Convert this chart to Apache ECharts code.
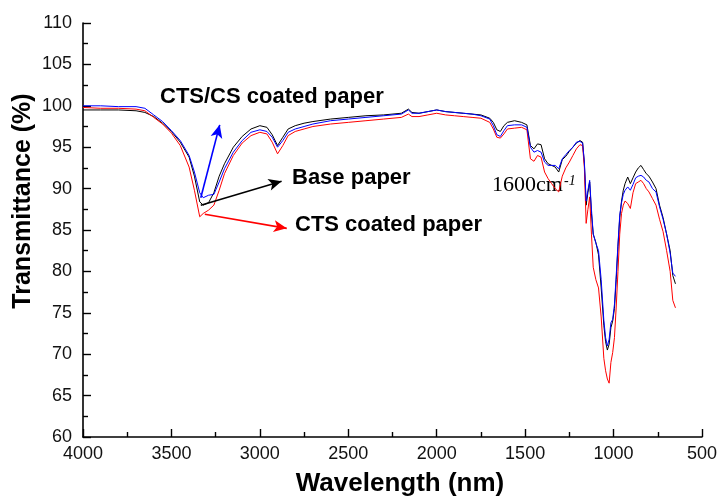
<!DOCTYPE html>
<html>
<head>
<meta charset="utf-8">
<script src="https://cdn.jsdelivr.net/npm/echarts@6/dist/echarts.min.js"></script>
<style>
html,body{margin:0;padding:0;background:#fff;}
#chart{width:720px;height:499px;}
</style>
</head>
<body>
<div id="chart"></div>
<script>
// Wavenumber positions (x axis, labelled "Wavelength (nm)")
const wavenumbers = [4000,3900,3800,3700,3650,3600,3550,3500,3450,3400,3370,3340,3320,3290,3260,3230,3200,3150,3100,3050,3000,2960,2930,2900,2870,2840,2800,2750,2700,2600,2500,2400,2300,2200,2160,2140,2100,2050,2000,1950,1900,1850,1800,1750,1700,1680,1660,1640,1620,1600,1560,1520,1490,1470,1450,1430,1410,1390,1370,1350,1330,1310,1290,1270,1250,1230,1210,1190,1175,1165,1155,1145,1135,1125,1115,1100,1085,1070,1055,1045,1035,1025,1015,1005,995,985,975,965,955,945,935,920,905,890,875,860,845,830,815,800,780,760,740,720,700,680,665,650];

const basePaper = [99.5,99.5,99.5,99.4,99.2,98.7,97.9,96.9,95.6,93.8,91.5,88.4,88.0,88.3,89.5,91.5,93.0,95.0,96.3,97.2,97.6,97.4,96.5,95.2,96.2,97.2,97.6,97.9,98.1,98.4,98.6,98.8,98.9,99.1,99.6,99.2,99.1,99.3,99.5,99.3,99.2,99.1,99.0,98.9,98.5,98.0,97.1,96.9,97.6,98.0,98.2,98.0,97.7,95.2,94.8,95.4,95.3,93.6,93.0,92.8,92.6,92.0,93.5,93.9,94.5,95.0,95.5,95.8,95.6,93.0,88.0,89.5,90.8,87.0,84.5,83.5,82.0,78.0,73.5,71.5,70.5,71.2,73.2,74.0,75.5,79.0,83.0,86.5,88.5,89.8,90.6,91.4,90.6,91.3,92.0,92.5,92.8,92.3,91.8,91.5,90.8,90.0,88.0,86.5,84.5,82.5,79.5,78.5];

const ctsCsPaper = [100.0,100.0,99.9,99.9,99.7,98.9,98.1,97.0,95.8,94.0,92.0,89.5,88.9,89.2,89.3,90.8,92.4,94.4,95.8,96.8,97.1,96.9,96.2,95.0,95.8,96.8,97.2,97.5,97.8,98.2,98.4,98.6,98.8,99.0,99.5,99.1,99.1,99.3,99.5,99.3,99.2,99.1,99.0,98.8,98.4,97.6,96.5,96.3,97.0,97.6,97.7,97.7,97.4,95.0,94.4,94.6,94.4,93.2,92.8,92.8,92.8,92.4,93.6,94.1,94.6,95.0,95.6,95.7,95.5,93.2,88.5,89.8,91.0,87.5,84.5,83.4,82.5,79.0,74.1,72.0,71.0,71.8,73.8,74.2,76.0,79.5,83.3,86.8,88.3,89.3,89.8,90.2,89.8,90.5,91.3,91.5,91.6,91.4,91.0,90.8,90.0,89.6,87.8,86.3,84.5,82.2,79.8,79.4];

const ctsPaper = [99.8,99.7,99.7,99.6,99.4,98.6,97.8,96.7,95.2,92.6,89.8,86.6,87.0,87.4,88.0,89.8,91.8,94.0,95.5,96.4,96.8,96.6,95.6,94.2,95.2,96.4,96.9,97.2,97.5,97.8,98.0,98.2,98.4,98.6,99.0,98.7,98.7,98.9,99.1,98.9,98.8,98.7,98.6,98.5,98.0,97.2,96.2,96.1,96.6,97.2,97.3,97.4,97.1,93.6,93.3,94.0,93.8,92.0,91.2,90.6,90.0,89.6,91.5,92.5,93.2,94.0,94.8,95.3,95.2,92.5,85.8,87.5,89.0,84.5,80.5,79.0,78.0,74.5,69.5,68.0,67.0,66.5,69.0,70.2,72.0,75.7,80.0,84.5,87.0,88.0,88.5,88.2,87.6,89.5,90.6,90.8,91.0,90.6,90.0,89.6,88.8,88.0,86.3,84.8,82.5,80.0,76.5,75.6];

// Annotation arrows (start point at the absorption minimum, end near label), in data units
const arrowCtsCs = [[3334, 88.9], [3227, 97.7]];
const arrowBase  = [[3334, 88.0], [2877, 90.9]];
const arrowCts   = [[3311, 86.9], [2848, 85.2]];

const xTicks = {min: 500, max: 4000, interval: 500};
const yTicks = {min: 60, max: 110, interval: 5};

function pairs(vals){ return wavenumbers.map((w,i)=>[w, vals[i]]); }
function arrow(a, color){
  return {
    silent: true, animation: false,
    symbol: ['none','arrow'], symbolSize: [9, 13],
    lineStyle: {color: color, width: 1.6, type: 'solid'},
    label: {show: false},
    data: [[{coord: a[0]}, {coord: a[1]}]]
  };
}

const chart = echarts.init(document.getElementById('chart'));
const labelFont = {fontFamily: 'Liberation Sans, Arial, sans-serif', fontSize: 18, color: '#111'};
const annFont = 'bold 22px "Liberation Sans", Arial, sans-serif';

chart.setOption({
  animation: false,
  backgroundColor: '#fff',
  grid: {left: 83, right: 17, top: 23, bottom: 62, containLabel: false},
  xAxis: {
    type: 'value', inverse: true,
    min: xTicks.min, max: xTicks.max, interval: xTicks.interval,
    axisLine: {show: true, onZero: false, lineStyle: {color: '#000', width: 1.6}},
    axisTick: {show: true, inside: true, length: 8, lineStyle: {color: '#000', width: 1.4}},
    minorTick: {show: true, splitNumber: 2, length: 5, lineStyle: {color: '#000', width: 1.4}},
    splitLine: {show: false},
    axisLabel: Object.assign({margin: 8, formatter: v => String(v)}, labelFont)
  },
  yAxis: {
    type: 'value',
    min: yTicks.min, max: yTicks.max, interval: yTicks.interval,
    axisLine: {show: true, onZero: false, lineStyle: {color: '#000', width: 1.6}},
    axisTick: {show: true, inside: true, length: 8, lineStyle: {color: '#000', width: 1.4}},
    minorTick: {show: true, splitNumber: 2, length: 5, lineStyle: {color: '#000', width: 1.4}},
    splitLine: {show: false},
    axisLabel: Object.assign({margin: 11, formatter: v => String(v)}, labelFont)
  },
  series: [
    {name: 'Base paper', type: 'line', data: pairs(basePaper), showSymbol: false, symbol: 'none',
     lineStyle: {color: '#000', width: 1}, itemStyle: {color: '#000'}, markLine: arrow(arrowBase, '#000')},
    {name: 'CTS coated paper', type: 'line', data: pairs(ctsPaper), showSymbol: false, symbol: 'none',
     lineStyle: {color: '#ff0000', width: 1}, itemStyle: {color: '#ff0000'}, markLine: arrow(arrowCts, '#ff0000')},
    {name: 'CTS/CS coated paper', type: 'line', data: pairs(ctsCsPaper), showSymbol: false, symbol: 'none',
     lineStyle: {color: '#0000ff', width: 1}, itemStyle: {color: '#0000ff'}, markLine: arrow(arrowCtsCs, '#0000ff')}
  ],
  graphic: [
    {type: 'text', x: 160, y: 97, style: {text: 'CTS/CS coated paper', font: annFont, fill: '#000', textAlign: 'left', textVerticalAlign: 'middle'}},
    {type: 'text', x: 292, y: 178, style: {text: 'Base paper', font: annFont, fill: '#000', textAlign: 'left', textVerticalAlign: 'middle'}},
    {type: 'text', x: 295, y: 225, style: {text: 'CTS coated paper', font: annFont, fill: '#000', textAlign: 'left', textVerticalAlign: 'middle'}},
    {type: 'text', x: 492, y: 185, style: {text: '1600cm', font: '22px "Liberation Serif", "Times New Roman", serif', fill: '#000', textAlign: 'left', textVerticalAlign: 'middle'}},
    {type: 'text', x: 564, y: 181, style: {text: '-1', font: 'italic 14px "Liberation Serif", "Times New Roman", serif', fill: '#000', textAlign: 'left', textVerticalAlign: 'middle'}},
    {type: 'text', x: 400, y: 484, style: {text: 'Wavelength (nm)', font: 'bold 26px "Liberation Sans", Arial, sans-serif', fill: '#000', textAlign: 'center', textVerticalAlign: 'middle'}},
    {type: 'text', x: 23, y: 201, rotation: Math.PI/2, style: {text: 'Transmittance (%)', font: 'bold 25px "Liberation Sans", Arial, sans-serif', fill: '#000', textAlign: 'center', textVerticalAlign: 'middle'}}
  ]
});
</script>
</body>
</html>
